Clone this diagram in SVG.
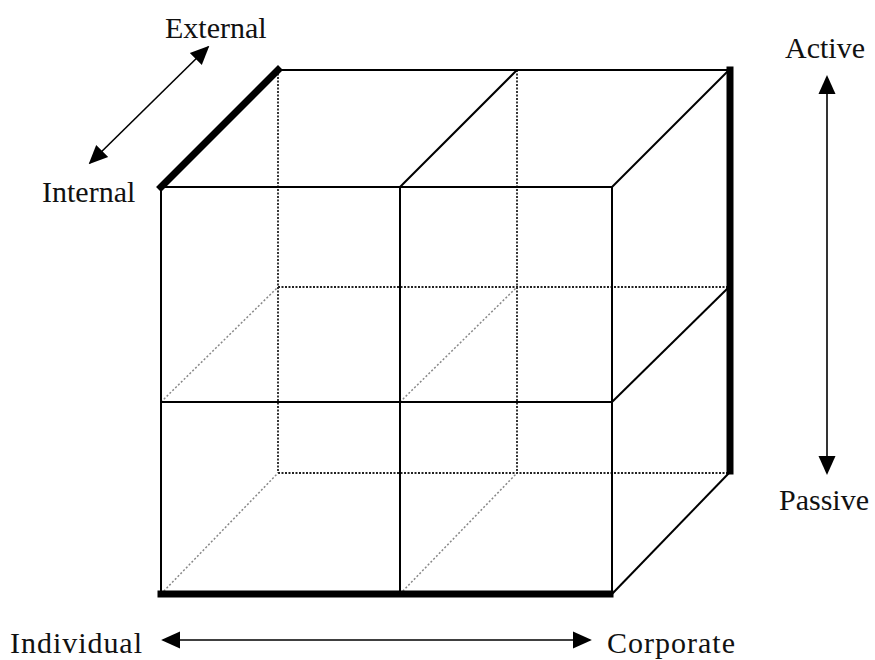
<svg xmlns="http://www.w3.org/2000/svg" width="875" height="660" viewBox="0 0 875 660">
<style>
.solid{stroke:#000;stroke-width:2;fill:none}
.thick{stroke:#000;stroke-width:7;fill:none;stroke-linecap:square}
.dot{stroke:#222;stroke-width:1.8;stroke-dasharray:2 1.5;fill:none}
.diag{stroke:#888;stroke-width:1.5;stroke-dasharray:2 2;fill:none}
.axis{stroke:#000;stroke-width:1.6;fill:none}
text{font-family:"Liberation Serif","Times New Roman",serif;font-size:30px;fill:#111}
</style>
<defs>
<marker id="ahb" viewBox="0 0 10 10" refX="9" refY="5" markerWidth="19" markerHeight="19" markerUnits="userSpaceOnUse" orient="auto-start-reverse">
<path d="M0,0.5 L10,5 L0,9.5 z" fill="#000"/>
</marker>
</defs>
<rect width="875" height="660" fill="#fff"/>
<g id="cube">
<g id="hidden">
<line class="dot" x1="278" y1="70" x2="278" y2="473"/>
<line class="dot" x1="517" y1="70" x2="517" y2="473"/>
<line class="dot" x1="278" y1="287" x2="729" y2="287"/>
<line class="dot" x1="278" y1="473" x2="729" y2="473"/>
<line class="diag" x1="161" y1="402" x2="278" y2="287"/>
<line class="diag" x1="400" y1="402" x2="517" y2="287"/>
<line class="diag" x1="161" y1="594" x2="278" y2="473"/>
<line class="diag" x1="400" y1="594" x2="517" y2="473"/>
</g>
<g id="visible">
<line class="solid" x1="278" y1="70" x2="729" y2="70"/>
<line class="solid" x1="400" y1="187" x2="517" y2="70"/>
<line class="solid" x1="612" y1="187" x2="729" y2="70"/>
<line class="solid" x1="612" y1="402" x2="729" y2="287"/>
<line class="solid" x1="612" y1="594" x2="729" y2="473"/>
<rect class="solid" x="161" y="187" width="451" height="407"/>
<line class="solid" x1="400" y1="187" x2="400" y2="594"/>
<line class="solid" x1="161" y1="402" x2="612" y2="402"/>
<line class="thick" x1="161" y1="187" x2="278" y2="70"/>
<line class="thick" x1="730" y1="70" x2="730" y2="471"/>
<line class="thick" x1="161" y1="594" x2="610" y2="594"/>
</g>
</g>
<g id="connectors">
<line class="axis" x1="90" y1="163" x2="208" y2="47" marker-start="url(#ahb)" marker-end="url(#ahb)"/>
<line class="axis" x1="827" y1="77" x2="827" y2="473" marker-start="url(#ahb)" marker-end="url(#ahb)"/>
<line class="axis" x1="163" y1="640" x2="590" y2="640" marker-start="url(#ahb)" marker-end="url(#ahb)"/>
</g>
<g id="label-external"><text x="165" y="38">External</text></g>
<g id="label-internal"><text x="42" y="202">Internal</text></g>
<g id="label-active"><text x="785" y="58">Active</text></g>
<g id="label-passive"><text x="779" y="510">Passive</text></g>
<g id="label-individual"><text x="10" y="653" textLength="132">Individual</text></g>
<g id="label-corporate"><text x="607" y="653" textLength="128">Corporate</text></g>
</svg>
